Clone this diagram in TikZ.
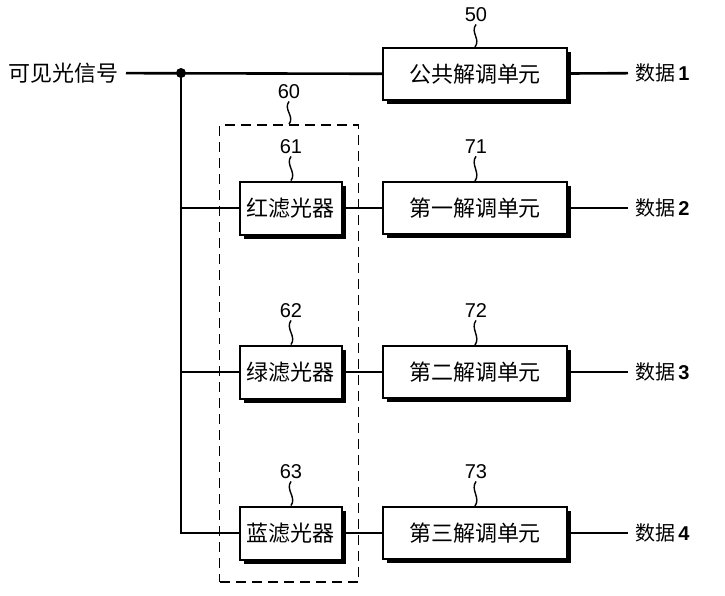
\documentclass[tikz,border=0pt]{standalone}
\usepackage{fontspec}
\setmainfont{Liberation Sans}
\newfontfamily\cjk{Noto Sans CJK SC}
\usetikzlibrary{shadows}

\tikzset{
  unit/.style={draw, line width=1pt, fill=white, font=\cjk\fontsize{11}{13}\selectfont,
    drop shadow={shadow xshift=2pt, shadow yshift=-2pt, fill=black, opacity=1}},
  filterbox/.style={unit, minimum width=50.5pt, minimum height=26.5pt},
  demodbox/.style={unit, minimum width=92pt, minimum height=26pt},
  refnum/.style={font=\fontsize{10}{12}\selectfont, inner sep=1pt},
  wire/.style={line width=1.3pt},
  squiggle/.style={line width=0.7pt}
}

\begin{document}
\begin{tikzpicture}[x=0.5pt, y=-0.5pt]
\useasboundingbox (0,0) rectangle (725,596);

% Input signal and common demodulator
\node[anchor=east, font=\cjk\fontsize{11}{13}\selectfont] (in) at (126,73) {可见光信号};
\node[demodbox] (d50) at (475,74) {公共解调单元};
\node[refnum] (n50) at (476,15) {50};
\coordinate (j0) at (181,73);

% Filter group
\node[draw, dashed, dash pattern=on 5pt off 3pt, line width=0.8pt, minimum width=69.5pt, minimum height=228.5pt] (g60) at (289,353.5) {};
\node[refnum] (n60) at (289,92) {60};

% Filters
\node[filterbox] (f61) at (291,208) {红滤光器};
\node[filterbox] (f62) at (291,372) {绿滤光器};
\node[filterbox] (f63) at (291,533) {蓝滤光器};
\node[refnum] (n61) at (291,147) {61};
\node[refnum] (n62) at (291,311) {62};
\node[refnum] (n63) at (291,472) {63};

% Demodulators
\node[demodbox] (d71) at (475,208) {第一解调单元};
\node[demodbox] (d72) at (475,372) {第二解调单元};
\node[demodbox] (d73) at (475,533) {第三解调单元};
\node[refnum] (n71) at (476,147) {71};
\node[refnum] (n72) at (476,311) {72};
\node[refnum] (n73) at (476,472) {73};

% Outputs
\node[anchor=west] (o1) at (628,73) {{\cjk 数据}\,\textbf{1}};
\node[anchor=west] (o2) at (628,208) {{\cjk 数据}\,\textbf{2}};
\node[anchor=west] (o3) at (628,372) {{\cjk 数据}\,\textbf{3}};
\node[anchor=west] (o4) at (628,533) {{\cjk 数据}\,\textbf{4}};

% Wires
\draw[wire] (in) -- (d50);
\fill (j0) circle (2.5pt);
\draw[wire] (j0) |- (f63);
\draw[wire] (j0 |- f61) -- (f61);
\draw[wire] (j0 |- f62) -- (f62);
\draw[wire] (f61) -- (d71);
\draw[wire] (f62) -- (d72);
\draw[wire] (f63) -- (d73);
\draw[wire] (d50) -- (o1);
\draw[wire] (d71) -- (o2);
\draw[wire] (d72) -- (o3);
\draw[wire] (d73) -- (o4);

% Leader squiggles
\foreach \n/\b in {n50/d50, n60/g60, n61/f61, n62/f62, n63/f63, n71/d71, n72/d72, n73/d73}
  \draw[squiggle] (\n.south) .. controls +(-6,8) and +(6,-8) .. (\b.north);
\end{tikzpicture}
\end{document}
